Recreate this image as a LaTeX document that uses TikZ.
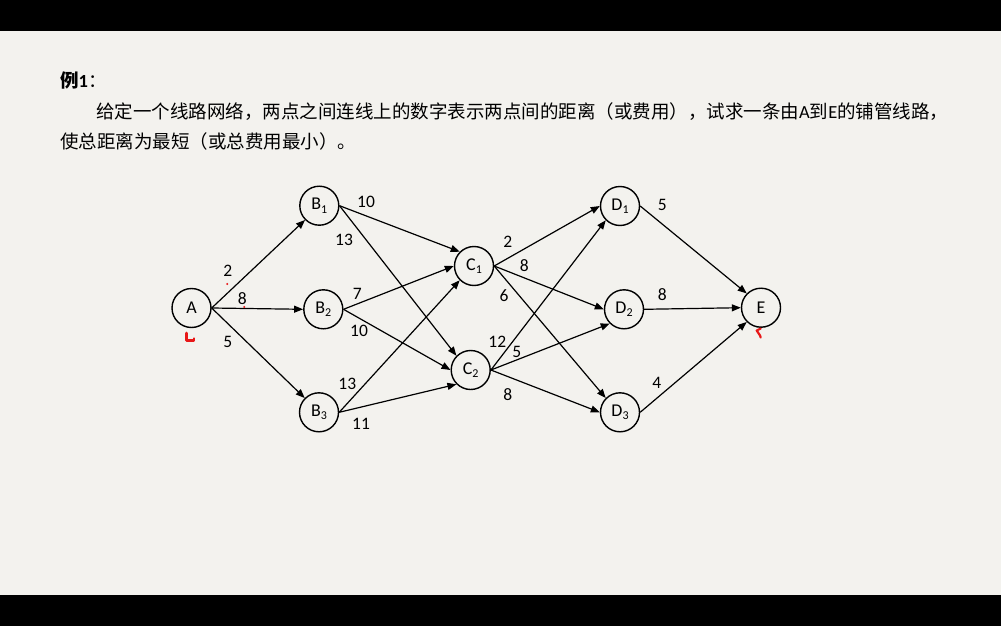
\documentclass[tikz,border=0pt]{standalone}
\usepackage{fontspec}
\setmainfont{Carlito}
\newfontfamily\cjk{Noto Sans CJK SC}
\usetikzlibrary{arrows.meta}
\definecolor{bg}{RGB}{243,242,238}
\definecolor{markred}{RGB}{232,24,24}
\newcommand{\nsub}[1]{\raisebox{-0.4ex}{\fontsize{12}{12}\selectfont #1}}
\begin{document}
\begin{tikzpicture}[x=1pt,y=-1pt,
  vert/.style={circle, draw, line width=1.4pt, minimum size=39pt, inner sep=0pt, font=\fontsize{18}{18}\selectfont},
  conn/.style={line width=1.2pt, -{Triangle[length=9pt,width=7pt]}},
  wt/.style={font=\fontsize{17.5}{17.5}\selectfont, inner sep=0pt},
  txt/.style={anchor=base west, inner sep=0pt, font=\cjk\fontsize{18.5}{18.5}\selectfont},
  redmark/.style={draw=markred, line width=2.6pt, line cap=round, line join=round}]
\useasboundingbox (0,0) rectangle (1001,626);
\fill[bg] (0,0) rectangle (1001,626);
\fill[black] (0,0) rectangle (1001,31);
\fill[black] (0,595) rectangle (1001,626);

% text
\node[txt] (title) at (60,88) {{\bfseries 例}{\rmfamily\bfseries 1}：};
\node[txt] (line1) at (96,118) {给定一个线路网络，两点之间连线上的数字表示两点间的距离（或费用），试求一条由{\rmfamily A}到{\rmfamily E}的铺管线路，};
\node[txt] (line2) at (60,148) {使总距离为最短（或总费用最小）。};

% vertices
\node[vert] (A)  at (191.5,308) {A};
\node[vert] (B1) at (319.3,205.7) {B\nsub{1}};
\node[vert] (B2) at (323.3,309.3) {B\nsub{2}};
\node[vert] (B3) at (319,412.3) {B\nsub{3}};
\node[vert] (C1) at (474,266) {C\nsub{1}};
\node[vert] (C2) at (470.7,370) {C\nsub{2}};
\node[vert] (D1) at (620,206) {D\nsub{1}};
\node[vert] (D2) at (624,309.3) {D\nsub{2}};
\node[vert] (D3) at (620,412.3) {D\nsub{3}};
\node[vert] (E)  at (761,307.7) {E};

% connectors
\draw[conn] (A.east) -- (B1.south west);
\draw[conn] (A.east) -- (B2.west);
\draw[conn] (A.east) -- (B3.north west);
\draw[conn] (B1.east) -- (C1.north west);
\draw[conn] (B1.east) -- (C2.north west);
\draw[conn] (B2.east) -- (C1.west);
\draw[conn] (B2.east) -- (C2.west);
\draw[conn] (B3.east) -- (C1.south west);
\draw[conn] (B3.east) -- (C2.south west);
\draw[conn] (C1.east) -- (D1.west);
\draw[conn] (C1.east) -- (D2.west);
\draw[conn] (C1.east) -- (D3.north west);
\draw[conn] (C2.east) -- (D1.south west);
\draw[conn] (C2.east) -- (D2.south west);
\draw[conn] (C2.east) -- (D3.west);
\draw[conn] (D1.east) -- (E.north west);
\draw[conn] (D2.east) -- (E.west);
\draw[conn] (D3.east) -- (E.south west);

% weights
\node[wt] (wAB1) at (227.7,270.7) {2};
\node[wt] (wAB2) at (242.3,298.3) {8};
\node[wt] (wAB3) at (227.7,341.7) {5};
\node[wt] (wB1C1) at (366,201.7) {10};
\node[wt] (wB1C2) at (344,240) {13};
\node[wt] (wB2C1) at (357.3,294) {7};
\node[wt] (wB2C2) at (359,330.7) {10};
\node[wt] (wB3C1) at (347.3,384.3) {13};
\node[wt] (wB3C2) at (361,424.3) {11};
\node[wt] (wC1D1) at (507.7,241.7) {2};
\node[wt] (wC1D2) at (524.3,266) {8};
\node[wt] (wC1D3) at (504,296) {6};
\node[wt] (wC2D1) at (497.3,341.7) {12};
\node[wt] (wC2D2) at (516.7,352.3) {5};
\node[wt] (wC2D3) at (507.7,395) {8};
\node[wt] (wD1E) at (662.3,205) {5};
\node[wt] (wD2E) at (662.3,295) {8};
\node[wt] (wD3E) at (656.7,383.3) {4};

% red annotation marks
\draw[redmark] (186.7,333) -- (186.7,340.7) -- (194,340.7) -- (194,338.5);
\draw[redmark, line width=2.2pt] (760.7,328.5) -- (756.7,330.5) -- (760,335.5) -- (760.7,337.5);
\fill[markred] (227.3,284) circle (1.1pt);
\fill[markred] (244.3,307) circle (1.1pt);
\end{tikzpicture}
\end{document}
